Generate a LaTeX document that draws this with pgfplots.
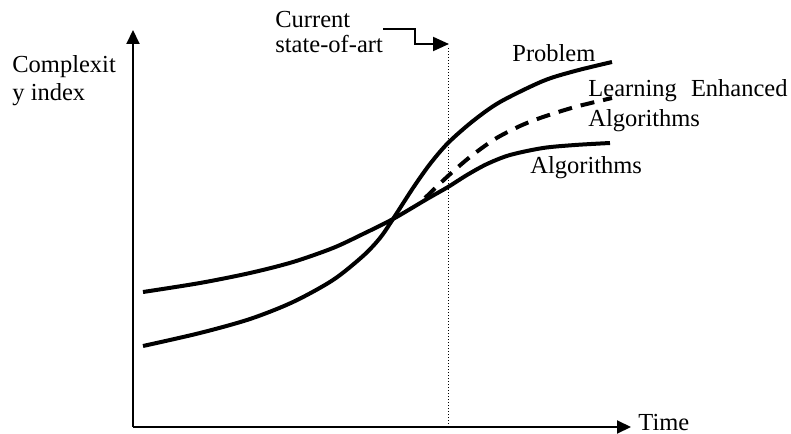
\documentclass[border=0pt]{standalone}
\usepackage{pgfplots}
\pgfplotsset{compat=1.18}
\usetikzlibrary{arrows.meta}
\usepackage{fontspec}
\setmainfont{Liberation Serif}
\begin{document}
\begin{tikzpicture}[lbl/.style={inner sep=0pt, font=\fontsize{12.25}{14}\selectfont}]
\begin{axis}[
  width=249pt, height=198.5pt, scale only axis,
  xmin=133, xmax=631, ymin=6, ymax=403,
  axis lines=left,
  axis line style={line width=1pt, -{Triangle[length=7pt,width=6.5pt]}},
  xtick=\empty, ytick=\empty,
  clip=false,
]
% invisible frame for the full picture extent
\path (axis cs:0,0) rectangle (axis cs:791,433);

% Algorithms
\addplot[smooth, line width=2pt, black] coordinates {
(143,141) (200,150) (250,160) (293,171) (333,185) (363,199) (393,214)
(427,234) (448,246) (467,258) (487,269) (510,278) (543,285) (575,288) (610,290)};
% Problem
\addplot[smooth, line width=2pt, black] coordinates {
(143,87) (200,100) (250,114) (293,131) (333,153) (363,177) (380,195) (393,214)
(413,245) (430,269) (448,290) (473,312) (500,331) (543,352) (575,362) (612,371)};
% Learning enhanced algorithms
\addplot[smooth, line width=2pt, black, dash pattern=on 7pt off 4.5pt] coordinates {
(425,235) (448,257) (470,276) (495,294) (520,307) (543,316) (575,326) (612,335)};
% current state-of-art line
\addplot[densely dotted, line width=0.5pt, black] coordinates {(448,6) (448,386)};

\draw[line width=1pt, -{Triangle[length=8pt,width=7pt]}]
  (axis cs:383,404) -- (axis cs:415,404) -- (axis cs:415,389) -- (axis cs:449,389);

\node[lbl, anchor=base west] at (axis cs:12,360) {Complexit};
\node[lbl, anchor=base west] at (axis cs:12,332) {y index};
\node[lbl, anchor=base west] at (axis cs:275,405) {Current};
\node[lbl, anchor=base west] at (axis cs:275,380) {state-of-art};
\node[lbl, anchor=base west] at (axis cs:512,371) {Problem};
\node[lbl, anchor=base west] at (axis cs:588,336) {Learning};
\node[lbl, anchor=base east] at (axis cs:788,336) {Enhanced};
\node[lbl, anchor=base west] at (axis cs:588,306) {Algorithms};
\node[lbl, anchor=base west] at (axis cs:530,259) {Algorithms};
\node[lbl, anchor=base west] at (axis cs:638,3) {Time};
\end{axis}
\end{tikzpicture}
\end{document}
